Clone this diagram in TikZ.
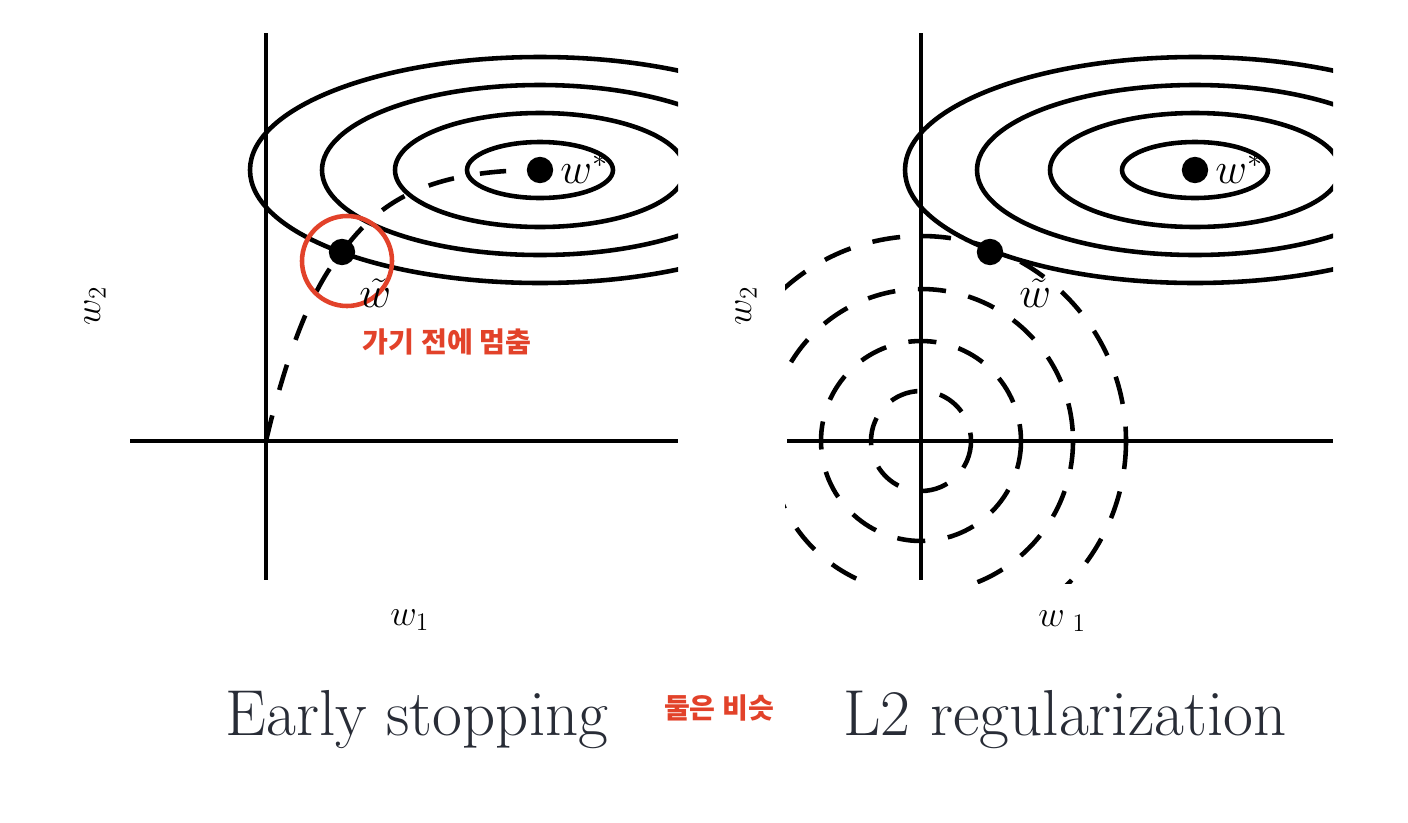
\documentclass[tikz,border=0pt]{standalone}
\usepackage{fontspec}
\usepackage{amsmath}
\usepackage{xcolor}
\newfontfamily\krfont{Noto Sans CJK KR}
\definecolor{stopred}{RGB}{226,66,42}
\definecolor{capgray}{RGB}{40,44,54}

\begin{document}
\begin{tikzpicture}[x=0.02cm, y=-0.02cm,
    axis/.style={line width=2.6pt},
    level/.style={line width=2.6pt},
    trail/.style={line width=2.6pt, dash pattern=on 15pt off 15pt},
    ball/.style={line width=2.6pt, dash pattern=on 16pt off 13pt},
    dot/.style={circle, fill=black, inner sep=0pt, minimum size=15pt},
    mlabel/.style={inner sep=0pt, font=\fontsize{26}{30}\selectfont},
    alabel/.style={inner sep=0pt, font=\fontsize{21}{25}\selectfont},
    note/.style={inner sep=0pt, text=stopred, font=\krfont\bfseries\fontsize{16}{19}\selectfont},
    caption/.style={inner sep=0pt, text=capgray, font=\fontsize{37}{44}\selectfont}]

    % Page frame
    \useasboundingbox (0,0) rectangle (1408,822);

    % Origins of the two panels
    \coordinate (O1) at (266,441);
    \coordinate (O2) at (921,441);

    % ---------- Left panel: early stopping ----------
    % Axes
    \draw[axis] (130,441) -- (678,441);
    \draw[axis] (266,33) -- (266,580);

    % Level sets of the loss around w*
    \begin{scope}
        \clip (130,20) rectangle (678,600);
        \foreach \rx/\ry in {73/28, 145/57, 218/85, 290/113}
            \draw[level] (540,170) ellipse [x radius=\rx, y radius=\ry];
    \end{scope}

    % Optimum and early stop point
    \node[dot] (wstarA) at (540,170) {};
    \node[dot] (wtildeA) at (342,252) {};

    % Training trajectory from the origin
    \draw[trail] (O1) .. controls (285,360) and (310,290) .. (wtildeA.center)
                      .. controls (380,200) and (430,170) .. (wstarA.center);

    % Red ring around the stop point
    \draw[stopred, line width=2.6pt] (347,261) circle [radius=45];

    % Labels
    \node[mlabel, anchor=base west] at (560,183) {$w^*$};
    \node[mlabel, anchor=base west] at (359,307) {$\tilde{w}$};
    \node[alabel, rotate=90] at (95,306) {$w_2$};
    \node[alabel, anchor=base west] at (390,625) {$w_1$};
    \node[note] at (447,342) {가기 전에 멈춤};

    % ---------- Right panel: L2 regularization ----------
    % Axes
    \draw[axis] (787,441) -- (1333,441);
    \draw[axis] (921,33) -- (921,580);

    % Level sets of the loss around w*
    \begin{scope}
        \clip (785,20) rectangle (1333,600);
        \foreach \rx/\ry in {73/28, 145/57, 218/85, 290/113}
            \draw[level] (1195,170) ellipse [x radius=\rx, y radius=\ry];
    \end{scope}

    % Level sets of the L2 penalty
    \begin{scope}
        \clip (785,20) rectangle (1333,583);
        \foreach \r in {50, 100, 152, 205}
            \draw[ball] (O2) circle [radius=\r];
    \end{scope}

    % Optimum and regularized solution
    \node[dot] (wstarB) at (1195,170) {};
    \node[dot] (wtildeB) at (990,252) {};

    % Labels
    \node[mlabel, anchor=base west] at (1215,183) {$w^*$};
    \node[mlabel, anchor=base west] at (1019,307) {$\tilde{w}$};
    \node[alabel, rotate=90] at (746,306) {$w_2$};
    \node[alabel, anchor=base west] at (1038,626) {$w_{\hspace{5pt}1}$};

    % ---------- Captions ----------
    \node[caption, anchor=base] (capA) at (417,735) {Early stopping};
    \node[caption, anchor=base] (capB) at (1065,735) {L2 regularization};
    \node[note] (same) at (719,708) {둘은 비슷};

\end{tikzpicture}
\end{document}
